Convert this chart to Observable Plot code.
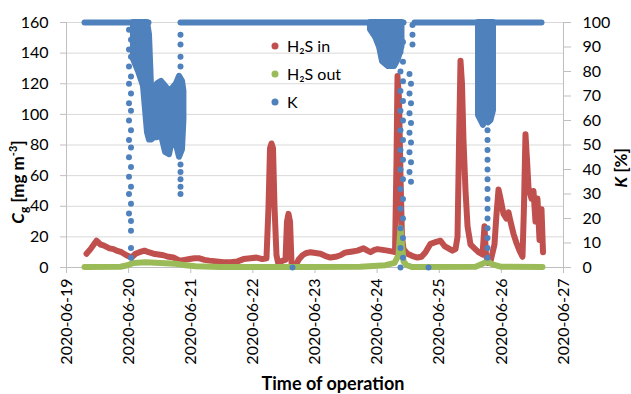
<!DOCTYPE html>
<html><head><meta charset="utf-8">
<script src="https://cdn.jsdelivr.net/npm/d3@7"></script>
<script src="https://cdn.jsdelivr.net/npm/@observablehq/plot@0.6"></script>
<style>body{margin:0;background:#fff;}</style>
</head><body><div id="chart"></div>
<script>
// Tick labels
const dayTicks = ["2020-06-19","2020-06-20","2020-06-21","2020-06-22","2020-06-23","2020-06-24","2020-06-25","2020-06-26","2020-06-27"];
const leftTicks = [0,20,40,60,80,100,120,140,160];
const kTicks = [0,10,20,30,40,50,60,70,80,90,100];
const seriesNames = ["H₂S in","H₂S out","K"];
const seriesColors = ["#c0504d","#9bbb59","#4f81bd"];

// H2S in: time as fractional day of June 2020, concentration mg m-3
const inDay = [19.322,19.386,19.483,19.547,19.596,19.692,19.757,19.805,19.885,19.966,20.046,20.111,20.175,20.256,20.320,20.400,20.481,20.561,20.642,20.722,20.819,20.899,20.980,21.060,21.141,21.221,21.302,21.414,21.527,21.640,21.753,21.849,21.962,22.058,22.155,22.219,22.252,22.276,22.300,22.324,22.348,22.380,22.412,22.477,22.525,22.549,22.573,22.598,22.622,22.686,22.734,22.799,22.863,22.928,23.008,23.089,23.169,23.250,23.330,23.410,23.475,23.523,23.604,23.684,23.781,23.845,23.893,23.958,24.006,24.087,24.167,24.231,24.288,24.312,24.328,24.352,24.376,24.400,24.425,24.489,24.569,24.650,24.714,24.779,24.859,24.940,25.020,25.085,25.149,25.213,25.262,25.294,25.318,25.342,25.366,25.390,25.423,25.455,25.503,25.567,25.632,25.696,25.728,25.753,25.785,25.825,25.889,25.922,25.954,25.986,26.034,26.082,26.115,26.147,26.195,26.243,26.292,26.340,26.364,26.388,26.413,26.437,26.485,26.517,26.549,26.581,26.614,26.646,26.670];
const inVal = [9,12,17.5,15,14.5,12.5,12,11,10,8,6.5,9,10,11,10,9,8.5,8,7,6.5,4.5,5,5.5,6,6,5,4.5,4,3.5,3.5,4,5.5,6,6.5,5.5,6,40,78,81,78,40,8,2,4.5,5,30,35,30,3,1,5,8,9.5,10,9.5,9,7.5,6.5,7,8,9.5,10,10.5,11,12.5,11,10,11.5,12,11.5,11,10.5,10,70,125,110,60,20,12,9,7.5,6.5,7,10,15.5,16.5,17.5,14,12.5,11,12,20,80,135,120,83,50,27,15,12.5,10,8.5,27,8,3,4,15,35,51,45,35,32,36,30,22,16,11,7,40,87,70,52,45,50,30,45,18,38,10];

// H2S out
const outDay = [19.290,19.869,19.982,20.078,20.272,20.513,20.755,20.915,21.076,21.479,22.767,23.732,24.135,24.280,24.344,24.376,24.400,24.425,24.473,24.569,25.584,25.696,25.777,25.857,25.986,26.662];
const outVal = [0.3,0.5,1.5,3,3.5,3,2.5,1.5,0.8,0.3,0.3,0.5,1.5,3,8,26,15,4,1.5,0.3,0.5,2.5,4,2,0.5,0.3];

// K [%] – plateau trace at 100 % (null = gap in the plateau)
const kDay = [19.290,20.320,20.400,20.835,24.425,24.500,24.602,26.646];
const kVal = [100,100,null,100,100,null,100,100];

// K [%] – dense scatter clouds: envelope (low / high) per time, null = separation between clouds
const kCloudDay = [20.078,20.159,20.239,20.304,20.336,20.368,20.416,20.465,20.529,20.594,20.658,20.706,20.771,20.819,20.867,20.890,
  21.000,
  23.893,23.974,24.038,24.087,24.183,24.280,24.344,24.400,
  24.500,
  25.632,25.672,25.712,25.752,25.793,25.833,25.873];
const kCloudLo = [85,80,74,55,52,52,53,53,54,47,46,52,50,45,48,60,
  null,
  97,94,90,84,82,82,85,90,
  null,
  62,60,58,61,59,60,64];
const kCloudHi = [100,100,100,100,95,74,73,75,76,74,72,73,75,78,76,72,
  null,
  100,100,100,100,100,100,100,100,
  null,
  100,100,100,100,100,100,100];

// K [%] – scattered single readings
const kDotDay = [20.006,20.006,20.006,20.006,20.006,20.006,20.006,20.006,20.006,20.006,20.006,
  20.038,20.038,20.038,20.038,20.038,20.038,20.038,20.038,20.038,20.038,20.038,20.038,20.038,20.038,
  20.835,20.835,20.835,20.835,20.835,20.835,20.835,20.835,20.835,
  22.638,24.827,
  24.376,24.376,24.376,24.376,24.376,24.376,24.376,24.376,24.376,24.376,24.376,24.376,24.376,
  24.416,24.416,24.416,24.416,24.416,24.416,24.416,24.416,24.416,24.416,24.416,24.416,
  24.569,24.569,24.569,
  24.521,24.521,24.521,24.521,24.521,24.521,
  24.545,24.545,24.545,24.545,24.545,24.545,
  25.777,25.777,25.777,25.777,25.777,25.777,25.777,25.777,25.777,25.777,25.777,25.777,25.777,25.777];
const kDotVal = [97,89,82,75,67,60,52,45,37,30,22,
  93,86,78,71,64,56,49,41,33,26,19,15,8,4,
  95,91,86,82,42,39,36,33,30,
  0,0,
  96,88,80,72,64,56,48,40,32,24,16,8,0,
  92,84,76,68,60,52,44,36,28,20,12,4,
  99,95,91,
  79,71,63,55,47,39,
  75,67,59,51,43,35,
  56,52,48,44,40,36,32,28,24,20,16,12,8,4];

const K2Y = 160/100; // K axis (right) mapped onto the concentration scale
const t0 = Date.UTC(2020,5,19);
const toDate = d => new Date(t0 + (d-19)*864e5);
const parseDay = d3.utcParse("%Y-%m-%d");
const kv = v => v==null ? NaN : v*K2Y;

const inData = inDay.map((d,i)=>({t:toDate(d), v:inVal[i]}));
const outData = outDay.map((d,i)=>({t:toDate(d), v:outVal[i]}));
const kData = kDay.map((d,i)=>({t:toDate(d), v:kv(kVal[i])}));
const kCloud = kCloudDay.map((d,i)=>({t:toDate(d), lo:kv(kCloudLo[i]), hi:kv(kCloudHi[i])}));
const kDots = kDotDay.map((d,i)=>({t:toDate(d), v:kDotVal[i]*K2Y}));

const lineOpts = {x:"t", y:"v", strokeWidth:6, strokeLinecap:"round", strokeLinejoin:"round"};
const axisColor = "#bfbfbf";
const font = "Lato, 'Open Sans', sans-serif";

const plot = Plot.plot({
  width:631, height:394,
  marginLeft:66, marginRight:68, marginTop:22, marginBottom:127,
  style:{fontFamily:font, fontSize:"16px", color:"#000", background:"#fff", overflow:"visible"},
  x:{type:"utc", domain:[parseDay(dayTicks[0]), parseDay(dayTicks[dayTicks.length-1])]},
  y:{domain:[leftTicks[0], leftTicks[leftTicks.length-1]]},
  marks:[
    Plot.ruleY(leftTicks.slice(1), {stroke:"#d9d9d9", strokeWidth:1}),
    Plot.ruleX([parseDay(dayTicks[0])], {stroke:axisColor}),
    Plot.ruleX([parseDay(dayTicks[dayTicks.length-1])], {stroke:axisColor}),
    Plot.ruleY([0], {stroke:axisColor}),
    Plot.axisY(leftTicks, {anchor:"left", tickSize:6, tickPadding:12, stroke:axisColor, fill:"#000", label:null}),
    Plot.axisY(kTicks.map(k=>k*K2Y), {anchor:"right", tickSize:7, tickPadding:12, stroke:axisColor, fill:"#000", label:null, tickFormat:d=>String(Math.round(d/K2Y))}),
    Plot.axisX(dayTicks.map(parseDay), {tickRotate:-90, tickSize:6, tickPadding:5, stroke:axisColor, fill:"#000", label:null, tickFormat:(d,i)=>dayTicks[i]}),
    Plot.line(inData, {...lineOpts, stroke:seriesColors[0]}),
    Plot.line(outData, {...lineOpts, stroke:seriesColors[1]}),
    Plot.areaY(kCloud, {x:"t", y1:"lo", y2:"hi", fill:seriesColors[2], stroke:seriesColors[2], strokeWidth:6, strokeLinejoin:"round"}),
    Plot.line(kData, {...lineOpts, stroke:seriesColors[2]}),
    Plot.dot(kDots, {x:"t", y:"v", r:3, fill:seriesColors[2], stroke:"none"})
  ]
});
document.getElementById("chart").appendChild(plot);

const svg = d3.select(plot);
// legend
const lg = svg.append("g").attr("font-family",font).attr("font-size",16).attr("text-anchor","start");
seriesNames.forEach((n,i)=>{
  const y = 46 + i*28;
  lg.append("circle").attr("cx",275).attr("cy",y).attr("r",3.5).attr("fill",seriesColors[i]);
  lg.append("text").attr("x",287).attr("y",y).attr("dy","0.35em").attr("fill","#000").text(n);
});
// axis titles
const lt = svg.append("text").attr("transform","translate(24,182) rotate(-90)").attr("text-anchor","middle")
  .attr("font-family",font).attr("font-size",17).attr("font-weight","bold").attr("fill","#000");
lt.append("tspan").attr("font-style","italic").text("C");
lt.append("tspan").attr("font-size",12).attr("dy",4).text("g");
lt.append("tspan").attr("dy",-4).text(" [mg m");
lt.append("tspan").attr("font-size",11).attr("dy",-7).text("-3");
lt.append("tspan").attr("dy",7).text("]");
const rt = svg.append("text").attr("transform","translate(627,168) rotate(-90)").attr("text-anchor","middle")
  .attr("font-family",font).attr("font-size",17).attr("font-weight","bold").attr("fill","#000");
rt.append("tspan").attr("font-style","italic").text("K");
rt.append("tspan").text(" [%]");
svg.append("text").attr("x",333).attr("y",390).attr("text-anchor","middle")
  .attr("font-family",font).attr("font-size",18).attr("font-weight","bold").attr("fill","#000")
  .text("Time of operation");
</script>
</body></html>
